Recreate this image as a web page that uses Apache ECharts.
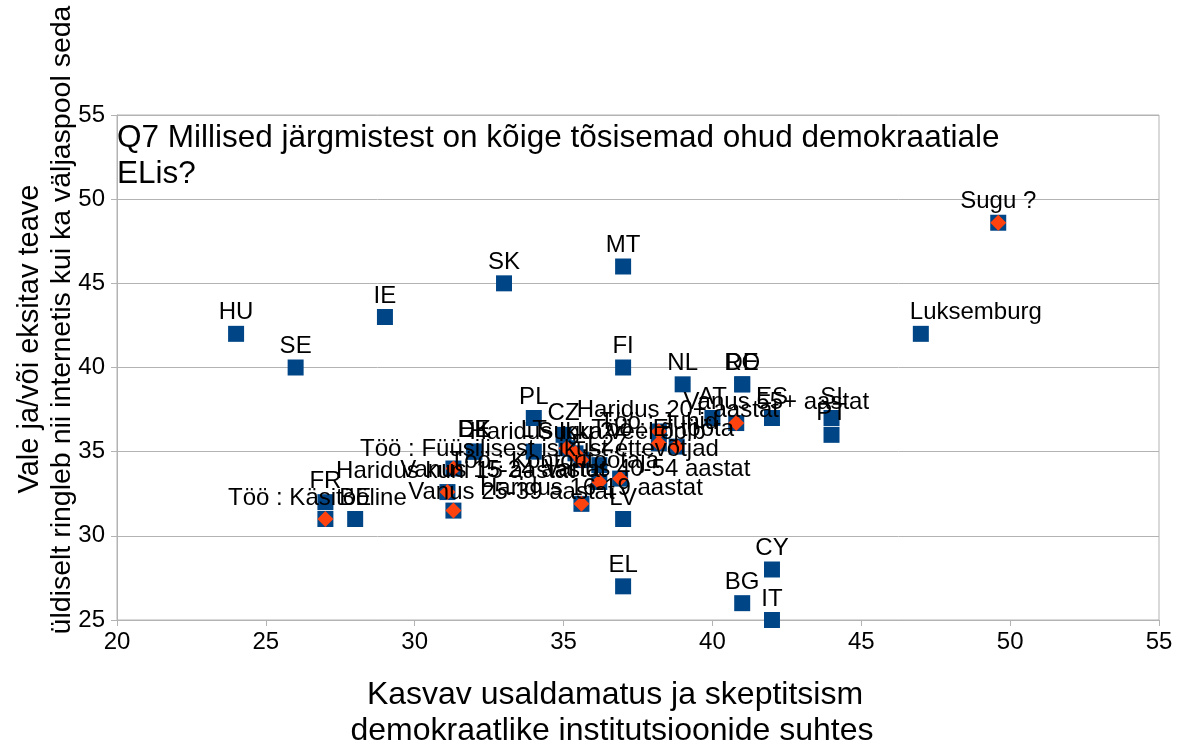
<!DOCTYPE html>
<html>
<head>
<meta charset="utf-8">
<script src="https://cdn.jsdelivr.net/npm/echarts@6/dist/echarts.min.js"></script>
<style>
  html, body { margin: 0; padding: 0; background: #fff; }
  #main { width: 1178px; height: 744px; }
</style>
</head>
<body>
<div id="main"></div>
<script>
// riigid (sinised ruudud)
const countryNames = ['HU', 'SE', 'IE', 'SK', 'MT', 'FI', 'NL', 'RO', 'DE', 'AT', 'ES', 'SI', 'PT',
  'Luksemburg', 'CY', 'BG', 'IT', 'EL', 'LV', 'FR', 'BE', 'PL', 'DK', 'EE', 'LT', 'CZ', 'EL27'];
const countryX = [24, 26, 29, 33, 37, 37, 39, 41, 41, 40, 42, 44, 44,
  47, 42, 41, 42, 37, 37, 27, 28, 34, 32, 32, 34, 35, 36.2];
const countryY = [42, 40, 43, 45, 46, 40, 39, 39, 39, 37, 37, 37, 36,
  42, 28, 26, 25, 27, 31, 32, 31, 37, 35, 35, 35, 36, 34.2];

// sotsiaal-demograafilised rühmad (oranžid rombid)
const groupNames = ['Sugu ?', 'Sugu ?', 'Töö : Käsitööline', 'Haridus kuni 15 aastat',
  'Vanus 15-24 aastat', 'Vanus 25-39 aastat', 'Haridus Ikka veel õpib',
  'Töö : Füüsilisest isikust ettevõtjad', 'Töö : Kontoritöötaja', 'Vanus 40-54 aastat',
  'Haridus 16-19 aastat', 'Haridus 20+ aastat', 'Töö : Juhid', 'Töö : Ei tööta', 'Vanus 55+ aastat'];
const groupX = [49.6, 35.4, 27.0, 31.1, 31.3, 31.3, 35.1, 35.6, 36.2, 36.9, 35.6, 38.2, 38.2, 38.8, 40.8];
const groupY = [48.6, 34.9, 31.0, 32.6, 34.0, 31.5, 35.2, 34.5, 33.2, 33.4, 31.9, 36.2, 35.5, 35.3, 36.7];

const titleLines = ['Q7 Millised järgmistest on kõige tõsisemad ohud demokraatiale', 'ELis?'];
const xTitle = ['Kasvav usaldamatus ja skeptitsism', 'demokraatlike institutsioonide suhtes'];
const yTitle = ['Vale ja/või eksitav teave', 'üldiselt ringleb nii internetis kui ka väljaspool seda'];

// käsitsi nihutatud sildid (px), nagu originaalis
const labelShift = {
  'Luksemburg': [55, 0],
  'Töö : Käsitööline': [-8, 0],
  'Haridus kuni 15 aastat': [8, 0],
  'Vanus 15-24 aastat': [50, 23],
  'Vanus 25-39 aastat': [58, 3],
  'Haridus Ikka veel õpib': [21, 5],
  'Töö : Füüsilisest isikust ettevõtjad': [-42, 10],
  'Töö : Kontoritöötaja': [-45, 0],
  'Vanus 40-54 aastat': [27, 12],
  'Haridus 16-19 aastat': [10, 6],
  'Haridus 20+ aastat': [19, 0],
  'Töö : Ei tööta': [-14, 4],
  'Vanus 55+ aastat': [40, 0]
};

const FONT = '"Liberation Sans", Arial, sans-serif';
const BLUE = '#004586';
const ORANGE = '#ff420e';

const withShift = (n, v) => {
  const item = { name: n, value: v };
  if (labelShift[n]) item.label = { offset: labelShift[n] };
  return item;
};
const countryData = countryNames.map((n, i) => withShift(n, [countryX[i], countryY[i]]));
const groupData = groupNames.map((n, i) => withShift(n, [groupX[i], groupY[i]]));
const groupBase = groupNames.map((n, i) => [groupX[i], groupY[i]]);

const labelStyle = {
  show: true, position: 'top', distance: 1,
  formatter: p => p.name, color: '#000', opacity: 1, fontSize: 24, fontFamily: FONT
};

const myChart = echarts.init(document.getElementById('main'));
const option = {
  animation: false,
  backgroundColor: '#fff',
  textStyle: { fontFamily: FONT },
  grid: {
    left: 117, right: 19, top: 115, bottom: 124,
    show: true, borderColor: '#b3b3b3', borderWidth: 1
  },
  xAxis: {
    type: 'value', min: 20, max: 55, interval: 5,
    axisLine: { show: true, lineStyle: { color: '#b3b3b3' } },
    axisTick: { show: true, inside: false, length: 6, lineStyle: { color: '#b3b3b3' } },
    splitLine: { show: false },
    axisLabel: { color: '#000', fontSize: 24, margin: 10, fontFamily: FONT }
  },
  yAxis: {
    type: 'value', min: 25, max: 55, interval: 5,
    axisLine: { show: true, lineStyle: { color: '#b3b3b3' } },
    axisTick: { show: true, inside: false, length: 6, lineStyle: { color: '#b3b3b3' } },
    splitLine: { show: true, lineStyle: { color: '#b3b3b3' } },
    axisLabel: { color: '#000', fontSize: 24, margin: 12, fontFamily: FONT }
  },
  graphic: [
    {
      type: 'text', left: 117, top: 120,
      style: { text: titleLines.join('\n'), font: '31.5px ' + FONT, fill: '#000', lineHeight: 36 }
    },
    {
      type: 'text', x: 615, y: 695,
      style: { text: xTitle[0], font: '32px ' + FONT, fill: '#000', align: 'center', verticalAlign: 'middle' }
    },
    {
      type: 'text', x: 612, y: 731,
      style: { text: xTitle[1], font: '32px ' + FONT, fill: '#000', align: 'center', verticalAlign: 'middle' }
    },
    {
      type: 'text', x: 30, y: 339, rotation: Math.PI / 2,
      style: { text: yTitle[0], font: '29px ' + FONT, fill: '#000', align: 'center', verticalAlign: 'middle' }
    },
    {
      type: 'text', x: 62, y: 320, rotation: Math.PI / 2,
      style: { text: yTitle[1], font: '28.5px ' + FONT, fill: '#000', align: 'center', verticalAlign: 'middle' }
    }
  ],
  series: [
    {
      name: 'riigid',
      type: 'scatter',
      symbol: 'rect',
      symbolSize: 16,
      itemStyle: { color: BLUE, opacity: 1 },
      data: countryData,
      label: labelStyle,
      z: 2
    },
    {
      name: 'rühmad alus',
      type: 'scatter',
      symbol: 'rect',
      symbolSize: 16,
      itemStyle: { color: BLUE, opacity: 1 },
      data: groupBase,
      label: { show: false },
      z: 3
    },
    {
      name: 'rühmad',
      type: 'scatter',
      symbol: 'diamond',
      symbolSize: [16, 16],
      itemStyle: { color: ORANGE, opacity: 1 },
      data: groupData,
      label: labelStyle,
      z: 4
    }
  ]
};
option && myChart.setOption(option);
</script>
</body>
</html>
